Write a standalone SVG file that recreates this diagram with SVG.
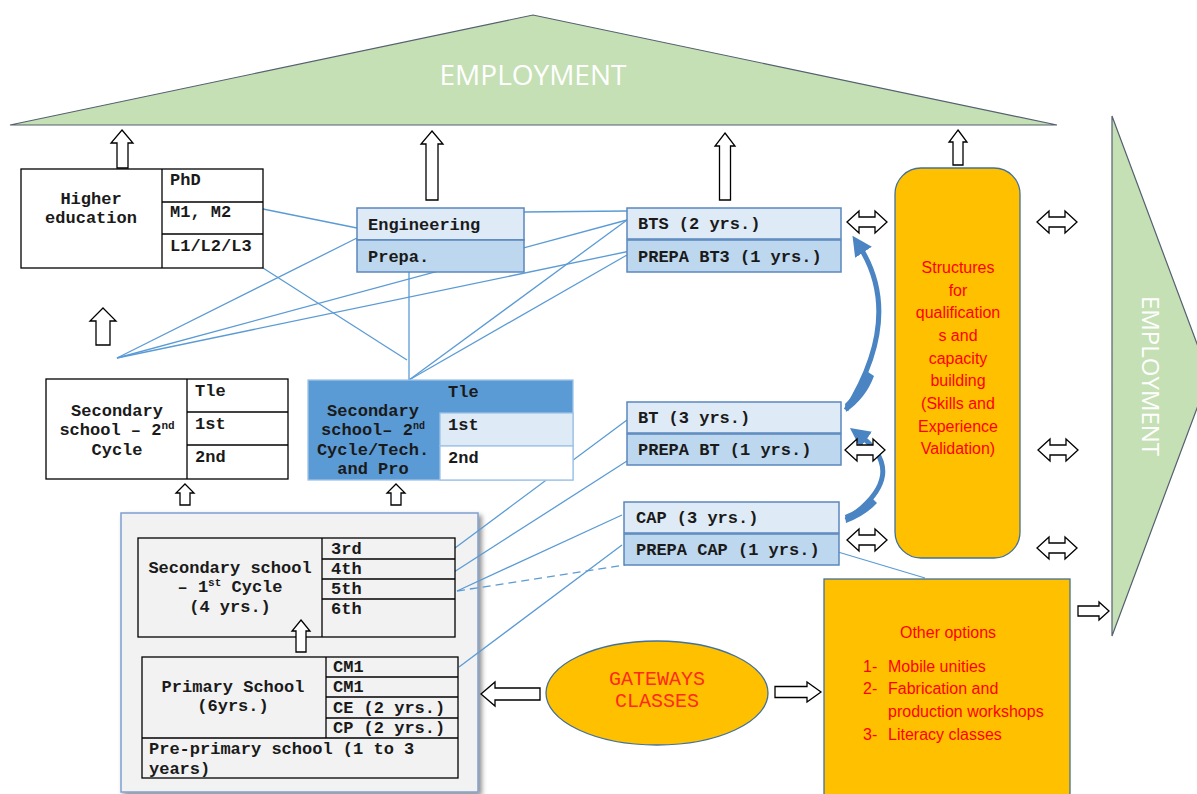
<svg xmlns="http://www.w3.org/2000/svg" width="1197" height="794" viewBox="0 0 1197 794">
<defs>
<style>
.box{fill:#fff;stroke:#000;stroke-width:1.3}
.gbox{fill:#f2f2f2;stroke:#000;stroke-width:1.3}
.mono{font-family:"Liberation Mono","Courier New",monospace;font-weight:bold;font-size:17px;fill:#1a1a1a}
.mid{text-anchor:middle}
.lt{fill:#deebf7;stroke:#5a87bd;stroke-width:1.5}
.md{fill:#bdd7ee;stroke:#5a87bd;stroke-width:1.5}
.conn{stroke:#5b9bd5;stroke-width:1.3;fill:none}
.ba{fill:#fff;stroke:#000;stroke-width:1.3;stroke-linejoin:miter}
.org{fill:#ffc000;stroke:#41719c;stroke-width:1.3}
.red{font-family:"Liberation Sans",Arial,sans-serif;font-size:16px;fill:#ff0000}
.curve{fill:none;stroke:#4a84c2;stroke-width:5}
</style>
<marker id="ah" markerWidth="4" markerHeight="4" refX="2" refY="2" orient="auto" markerUnits="strokeWidth">
<path d="M0,0 L4,2 L0,4 Z" fill="#4a84c2"/>
</marker>
<filter id="sh" x="-5%" y="-5%" width="115%" height="115%">
<feDropShadow dx="3" dy="3" stdDeviation="2.5" flood-color="#000" flood-opacity="0.45"/>
</filter>
</defs>

<g id="employment-top">
<polygon points="10,125 533,15 1057,125" fill="#c5e0b4" stroke="#556070" stroke-width="1.2"/>
<text x="533" y="85" text-anchor="middle" font-family="'Open Sans','Liberation Sans',sans-serif" font-size="28" fill="#fff">EMPLOYMENT</text>
</g>

<g id="employment-right">
<polygon points="1112,116 1209,376 1112,636" fill="#c5e0b4" stroke="#556070" stroke-width="1.2"/>
<text transform="translate(1142,376) rotate(90)" text-anchor="middle" font-family="'Open Sans','Liberation Sans',sans-serif" font-size="24" fill="#fff">EMPLOYMENT</text>
</g>

<g id="basic-education">
<rect x="121" y="513" width="357" height="279" fill="#f2f2f2" stroke="#7f9fcf" stroke-width="1.5" filter="url(#sh)"/>
</g>

<g id="connectors">
<line class="conn" x1="263" y1="209" x2="357" y2="228"/>
<line class="conn" x1="263" y1="268" x2="407" y2="360"/>
<line class="conn" x1="117" y1="358" x2="357" y2="238"/>
<line class="conn" x1="117" y1="358" x2="627" y2="220"/>
<line class="conn" x1="117" y1="358" x2="635" y2="250"/>
<line class="conn" x1="409" y1="272" x2="409" y2="380"/>
<line class="conn" x1="409" y1="380" x2="627" y2="220"/>
<line class="conn" x1="409" y1="380" x2="627" y2="255"/>
<line class="conn" x1="524" y1="212" x2="627" y2="211"/>
<line class="conn" x1="455" y1="548" x2="627" y2="420"/>
<line class="conn" x1="454" y1="572" x2="627" y2="461"/>
<line class="conn" x1="457" y1="591" x2="622" y2="515"/>
<line class="conn" x1="457" y1="591" x2="625" y2="565" stroke-dasharray="8,5"/>
<line class="conn" x1="459" y1="667" x2="622" y2="545"/>
<line class="conn" x1="838" y1="552" x2="925" y2="578"/>
<path class="curve" d="M846,410 Q905,315 858,244" marker-end="url(#ah)"/>
<path d="M845,404 Q860,390 868,372 L874,376 Q866,398 846,412 Z" fill="#4a84c2"/>
<path class="curve" d="M846,520 Q913,474 858,434" marker-end="url(#ah)"/>
<path d="M845,515 Q862,508 872,498 L877,503 Q865,516 846,523 Z" fill="#4a84c2"/>
<path class="ba" d="M122,130 L133,143 L128,143 L128,168 L117,168 L117,143 L111,143 Z"/>
<path class="ba" d="M432,131 L443,144 L438,144 L438,200 L426,200 L426,144 L421,144 Z"/>
<path class="ba" d="M725,133 L735,146 L730.5,146 L730.5,200 L719.5,200 L719.5,146 L715,146 Z"/>
<path class="ba" d="M958,130 L967,142 L963,142 L963,165 L953,165 L953,142 L949,142 Z"/>
<path class="ba" d="M103,308 L116,321 L110,321 L110,345 L96,345 L96,321 L90,321 Z"/>
<path class="ba" d="M185,484 L194,493 L190,493 L190,505 L180,505 L180,493 L176,493 Z"/>
<path class="ba" d="M396,484 L405,493 L401,493 L401,505 L391,505 L391,493 L387,493 Z"/>
<path class="ba" d="M847,222 L859,211 L859,217 L875,217 L875,211 L887,222 L875,233 L875,227 L859,227 L859,233 Z"/>
<path class="ba" d="M1037,222 L1049,211 L1049,217 L1065,217 L1065,211 L1077,222 L1065,233 L1065,227 L1049,227 L1049,233 Z"/>
<path class="ba" d="M845,450 L857,439 L857,445 L873,445 L873,439 L885,450 L873,461 L873,455 L857,455 L857,461 Z"/>
<path class="ba" d="M1038,450 L1050,439 L1050,445 L1066,445 L1066,439 L1078,450 L1066,461 L1066,455 L1050,455 L1050,461 Z"/>
<path class="ba" d="M847,540 L859,529 L859,535 L875,535 L875,529 L887,540 L875,551 L875,545 L859,545 L859,551 Z"/>
<path class="ba" d="M1037,548 L1049,537 L1049,543 L1065,543 L1065,537 L1077,548 L1065,559 L1065,553 L1049,553 L1049,559 Z"/>
<path class="ba" d="M775,686.5 L807,686.5 L807,682 L821,692 L807,702 L807,697.5 L775,697.5 Z"/>
<path class="ba" d="M1078,606 L1099,606 L1099,602 L1109,611 L1099,620 L1099,616 L1078,616 Z"/>
<path class="ba" d="M481,694 L495,682 L495,688 L540,688 L540,700 L495,700 L495,706 Z"/>
</g>

<g id="higher-education">
<rect class="box" x="21" y="169" width="242" height="99"/>
<line x1="162" y1="169" x2="162" y2="268" stroke="#000" stroke-width="1.3"/>
<line x1="162" y1="202" x2="263" y2="202" stroke="#000" stroke-width="1.3"/>
<line x1="162" y1="234" x2="263" y2="234" stroke="#000" stroke-width="1.3"/>
<text class="mono mid" x="91" y="204">Higher</text>
<text class="mono mid" x="91" y="223">education</text>
<text class="mono" x="170" y="185">PhD</text>
<text class="mono" x="170" y="217">M1, M2</text>
<text class="mono" x="170" y="251">L1/L2/L3</text>
</g>

<g id="engineering">
<rect class="lt" x="357" y="208" width="167" height="32"/>
<rect class="md" x="357" y="240" width="167" height="32"/>
<text class="mono" x="368" y="230">Engineering</text>
<text class="mono" x="368" y="262">Prepa.</text>
</g>

<g id="bts">
<rect class="lt" x="627" y="208" width="214" height="31"/>
<rect class="md" x="627" y="240" width="214" height="32"/>
<text class="mono" x="638" y="229">BTS (2 yrs.)</text>
<text class="mono" x="638" y="262">PREPA BT3 (1 yrs.)</text>
</g>

<g id="bt">
<rect class="lt" x="627" y="402" width="214" height="31"/>
<rect class="md" x="627" y="434" width="214" height="31"/>
<text class="mono" x="638" y="423">BT (3 yrs.)</text>
<text class="mono" x="638" y="455">PREPA BT (1 yrs.)</text>
</g>

<g id="cap">
<rect class="lt" x="624" y="502" width="215" height="31"/>
<rect class="md" x="624" y="534" width="215" height="31"/>
<text class="mono" x="636" y="523">CAP (3 yrs.)</text>
<text class="mono" x="636" y="555">PREPA CAP (1 yrs.)</text>
</g>

<g id="secondary-2nd-cycle">
<rect class="box" x="46" y="379" width="242" height="100"/>
<line x1="187" y1="379" x2="187" y2="479" stroke="#000" stroke-width="1.3"/>
<line x1="187" y1="412" x2="288" y2="412" stroke="#000" stroke-width="1.3"/>
<line x1="187" y1="445" x2="288" y2="445" stroke="#000" stroke-width="1.3"/>
<text class="mono mid" x="117" y="416">Secondary</text>
<text class="mono mid" x="117" y="435">school – 2<tspan font-size="11" dy="-6">nd</tspan></text>
<text class="mono mid" x="117" y="455">Cycle</text>
<text class="mono" x="195" y="396">Tle</text>
<text class="mono" x="195" y="429">1st</text>
<text class="mono" x="195" y="462">2nd</text>
</g>

<g id="secondary-tech">
<rect x="308" y="380" width="265" height="100" fill="#5b9bd5" stroke="#9dc3e6" stroke-width="1.3"/>
<rect x="440" y="413" width="133" height="33" fill="#deebf7" stroke="#9dc3e6" stroke-width="1.3"/>
<rect x="440" y="446" width="133" height="34" fill="#fff" stroke="#9dc3e6" stroke-width="1.3"/>
<text class="mono" x="448" y="397">Tle</text>
<text class="mono mid" x="373" y="416">Secondary</text>
<text class="mono mid" x="373" y="435">school– 2<tspan font-size="10" dy="-6">nd</tspan></text>
<text class="mono mid" x="373" y="455">Cycle/Tech.</text>
<text class="mono mid" x="373" y="474">and Pro</text>
<text class="mono" x="448" y="430">1st</text>
<text class="mono" x="448" y="463">2nd</text>
</g>

<g id="secondary-1st-cycle">
<rect class="gbox" x="138" y="538" width="317" height="99"/>
<line x1="322" y1="538" x2="322" y2="637" stroke="#000" stroke-width="1.3"/>
<line x1="322" y1="559" x2="455" y2="559" stroke="#000" stroke-width="1.3"/>
<line x1="322" y1="579" x2="455" y2="579" stroke="#000" stroke-width="1.3"/>
<line x1="322" y1="599" x2="455" y2="599" stroke="#000" stroke-width="1.3"/>
<text class="mono mid" x="230" y="573">Secondary school</text>
<text class="mono mid" x="230" y="592">– 1<tspan font-size="11" dy="-6">st</tspan><tspan dy="6"> Cycle</tspan></text>
<text class="mono mid" x="230" y="612">(4 yrs.)</text>
<text class="mono" x="331" y="554">3rd</text>
<text class="mono" x="331" y="574">4th</text>
<text class="mono" x="331" y="594">5th</text>
<text class="mono" x="331" y="614">6th</text>
<path class="ba" d="M301,620 L310,631 L306,631 L306,652 L296,652 L296,631 L292,631 Z"/>
</g>

<g id="primary-school">
<rect class="gbox" x="142" y="657" width="316" height="121"/>
<line x1="326" y1="657" x2="326" y2="738" stroke="#000" stroke-width="1.3"/>
<line x1="326" y1="677" x2="458" y2="677" stroke="#000" stroke-width="1.3"/>
<line x1="326" y1="697" x2="458" y2="697" stroke="#000" stroke-width="1.3"/>
<line x1="326" y1="718" x2="458" y2="718" stroke="#000" stroke-width="1.3"/>
<line x1="142" y1="738" x2="458" y2="738" stroke="#000" stroke-width="1.3"/>
<text class="mono mid" x="233" y="692">Primary School</text>
<text class="mono mid" x="233" y="711">(6yrs.)</text>
<text class="mono" x="333" y="672">CM1</text>
<text class="mono" x="333" y="692">CM1</text>
<text class="mono" x="333" y="713">CE (2 yrs.)</text>
<text class="mono" x="333" y="733">CP (2 yrs.)</text>
<text class="mono" x="149" y="754">Pre-primary school (1 to 3</text>
<text class="mono" x="149" y="774">years)</text>
</g>

<g id="structures">
<rect class="org" x="895" y="168" width="125" height="390" rx="26"/>
<text class="red mid" x="958" y="273">Structures</text>
<text class="red mid" x="958" y="296">for</text>
<text class="red mid" x="958" y="318">qualification</text>
<text class="red mid" x="958" y="341">s and</text>
<text class="red mid" x="958" y="364">capacity</text>
<text class="red mid" x="958" y="386">building</text>
<text class="red mid" x="958" y="409">(Skills and</text>
<text class="red mid" x="958" y="432">Experience</text>
<text class="red mid" x="958" y="454">Validation)</text>
</g>

<g id="gateways">
<ellipse class="org" cx="657" cy="693" rx="111" ry="52"/>
<text class="mid" x="657" y="685" font-family="'Liberation Mono','Courier New',monospace" font-size="20" fill="#ff2a1a">GATEWAYS</text>
<text class="mid" x="657" y="707" font-family="'Liberation Mono','Courier New',monospace" font-size="20" fill="#ff2a1a">CLASSES</text>
</g>

<g id="other-options">
<rect class="org" x="824" y="579" width="246" height="220"/>
<text class="red mid" x="948" y="638">Other options</text>
<text class="red" x="863" y="672">1-</text>
<text class="red" x="888" y="672">Mobile unities</text>
<text class="red" x="863" y="694">2-</text>
<text class="red" x="888" y="694">Fabrication and</text>
<text class="red" x="888" y="717">production workshops</text>
<text class="red" x="863" y="740">3-</text>
<text class="red" x="888" y="740">Literacy classes</text>
</g>
</svg>
